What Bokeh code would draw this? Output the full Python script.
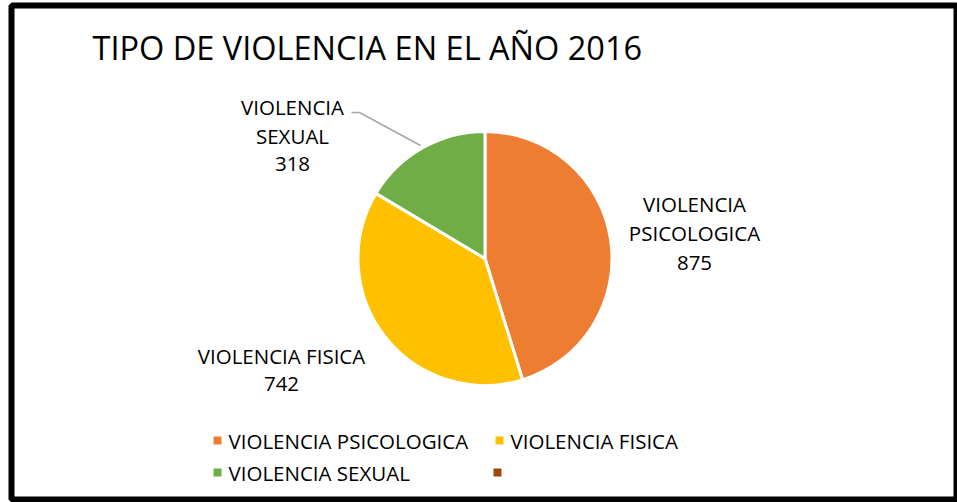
import math
from bokeh.plotting import figure
from bokeh.models import ColumnDataSource, Range1d
from bokeh.core.properties import value
from bokeh.embed import file_html
from bokeh.resources import INLINE

# ---- data ----
title_text = "TIPO DE VIOLENCIA EN EL AÑO 2016"
categories = ["VIOLENCIA PSICOLOGICA", "VIOLENCIA FISICA", "VIOLENCIA SEXUAL"]
values = [875, 742, 318]
colors = ["#ED7D31", "#FFC000", "#70AD47"]
label_lines = [["VIOLENCIA", "PSICOLOGICA", "875"],
               ["VIOLENCIA FISICA", "742"],
               ["VIOLENCIA", "SEXUAL", "318"]]
legend_labels = ["VIOLENCIA PSICOLOGICA", "VIOLENCIA FISICA", "VIOLENCIA SEXUAL", ""]
legend_colors = ["#ED7D31", "#FFC000", "#70AD47", "#9E480E"]

FONT = "Open Sans"
W, H = 957, 502
ML, MT, MR, MBOT = 11, 5, 1, 3
FW, FH = W - ML - MR, H - MT - MBOT


def px(x):  # page x -> data x
    return x - ML


def py(y):  # page y -> data y
    return FH - (y - MT)


p = figure(width=W, height=H, output_backend="svg", toolbar_location=None,
           x_range=Range1d(0, FW), y_range=Range1d(0, FH),
           min_border_left=ML, min_border_top=MT, min_border_right=MR,
           min_border_bottom=MBOT, match_aspect=False)
p.axis.visible = False
p.grid.visible = False
p.outline_line_color = "black"
p.outline_line_width = 6
p.background_fill_color = "white"
p.border_fill_color = "white"

# pie
total = sum(values)
starts, ends = [], []
cum = 0
for v in values:
    starts.append(math.pi / 2 - 2 * math.pi * cum / total)
    cum += v
    ends.append(math.pi / 2 - 2 * math.pi * cum / total)
cx, cy, r = px(484.5), py(258), 127
src = ColumnDataSource(dict(start=starts, end=ends, color=colors, cat=categories))
p.wedge(x=cx, y=cy, radius=r, start_angle="start", end_angle="end",
        direction="clock", fill_color="color", line_color="white",
        line_width=3, source=src)

# title
p.text(x=[px(92)], y=[py(47)], text=[title_text], text_font=value(FONT),
       text_font_size="32.5px", text_baseline="middle", text_align="left",
       text_color="black")

# data labels
label_pos = [(694, [203, 232, 262]), (281, [355, 383]), (292, [106, 135, 163])]
for lines, (lx, lys) in zip(label_lines, label_pos):
    p.text(x=[px(lx)] * len(lines), y=[py(yy) for yy in lys], text=lines,
           text_font=value(FONT), text_font_size="20.5px", text_align="center",
           text_baseline="middle", text_color="black")

# leader line for sexual label
p.line(x=[px(351), px(359), px(420)], y=[py(112), py(112), py(145)],
       line_color="#a6a6a6", line_width=1.5)

# legend
leg_pos = [(217, 440), (499, 440), (217, 472), (497, 472)]
for lab, col, (lx, ly) in zip(legend_labels, legend_colors, leg_pos):
    p.rect(x=[px(lx)], y=[py(ly)], width=8, height=8, fill_color=col,
           line_color=None)
    if lab:
        p.text(x=[px(lx + 11)], y=[py(ly)], text=[lab], text_font=value(FONT),
               text_font_size="20.5px", text_align="left",
               text_baseline="middle", text_color="black")

open("out.html", "w").write(file_html(p, INLINE))
